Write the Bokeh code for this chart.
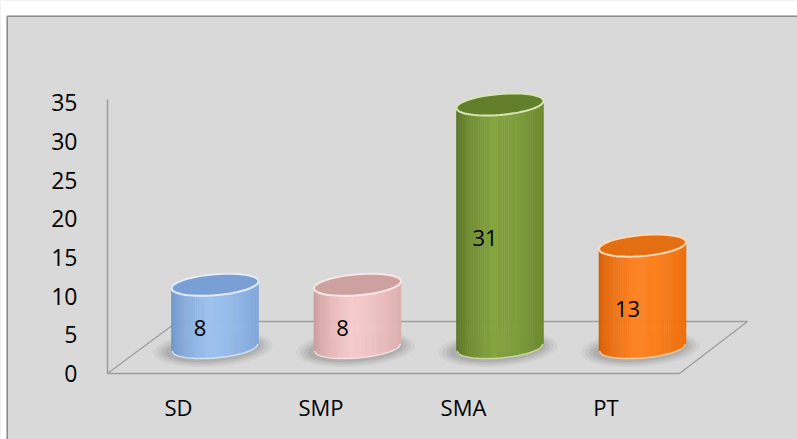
import math

from bokeh.core.properties import value
from bokeh.embed import file_html
from bokeh.models import ColumnDataSource, FixedTicker, Range1d
from bokeh.plotting import figure
from bokeh.resources import INLINE

# ---- data -------------------------------------------------------------
categories = ["SD", "SMP", "SMA", "PT"]
counts = [8, 8, 31, 13]
y_ticks = [0, 5, 10, 15, 20, 25, 30, 35]

# per-cylinder shading: left edge, highlight, right side, top inside, rim
palettes = [
    ("#6a8fc4", "#9dc2ef", "#80a6da", "#7a9fd4", "#e3ecf7"),
    ("#c79796", "#f6cbcb", "#ddafae", "#cda1a0", "#fae6e6"),
    ("#556e24", "#83a33f", "#6b8a2e", "#627f2c", "#d8e6b5"),
    ("#d05805", "#ff8422", "#ec6e0c", "#e46e12", "#fdd9b8"),
]

# ---- layout constants (pixels) ---------------------------------------
W, H = 797, 439
BOX_L, BOX_T = 6, 15    # grey chart box corner
AXIS_X = 107            # value axis position
LABEL_ROW = 385         # category labels hang below this row
PX_UNIT = 7.74          # pixels per count on the value axis
BAR_PX_UNIT = 7.84      # pixels per count at the cylinders' depth
AXIS_ZERO = 373         # value axis zero (floor front edge)
BAR_ZERO = 347          # row where cylinders stand (mid floor)
SLOT, FIRST_LABEL = 142.5, 178
BAR_SHIFT, BAR_W = 36.5, 87
ELL_H, ELL_SHEAR = 10.5, 3.5
FLOOR_BACK_Y = 321
FLOOR_X = (107, 679, 747, 177)

BG = "#d9d9d9"
FONT = value("Open Sans")


def xd(px):
    return (px - FIRST_LABEL) / SLOT


def yd(px):
    return (AXIS_ZERO - px) / PX_UNIT


def mix(a, b, t):
    ca = [int(a[k:k + 2], 16) for k in (1, 3, 5)]
    cb = [int(b[k:k + 2], 16) for k in (1, 3, 5)]
    return "#" + "".join(f"{round(x + (y - x) * t):02x}" for x, y in zip(ca, cb))


def shade(pal, u):
    left, light, right = pal[0], pal[1], pal[2]
    u0 = -0.15
    if u < u0:
        t = ((u + 1) / (u0 + 1)) ** 0.55
        return mix(left, light, t)
    t = ((u - u0) / (1 - u0)) ** 1.6
    return mix(light, right, t)


p = figure(
    width=W, height=H,
    x_range=Range1d(xd(0), xd(W)),
    y_range=Range1d(yd(H), yd(0)),
    min_border=0,
    toolbar_location=None, output_backend="svg",
)
p.extra_y_ranges = {
    "bars": Range1d((BAR_ZERO - H) / BAR_PX_UNIT, BAR_ZERO / BAR_PX_UNIT)
}
p.background_fill_color = BG
p.border_fill_color = BG
p.outline_line_color = None
p.grid.visible = False

# page margin around the grey chart box, and the box border
p.quad(left=[xd(0), xd(0)], right=[xd(W), xd(BOX_L)],
       bottom=[yd(BOX_T), yd(H)], top=[yd(0), yd(0)],
       fill_color="white", line_alpha=0)
edge = 0.75
p.line([xd(BOX_L + edge)] * 2, [yd(H), yd(BOX_T + edge)],
       line_color="#8c8c8c", line_width=1.5)
p.line([xd(BOX_L + edge), xd(W)], [yd(BOX_T + edge)] * 2,
       line_color="#8c8c8c", line_width=1.5)

# value axis, drawn inside the chart box
ya = p.yaxis[0]
ya.fixed_location = xd(AXIS_X)
ya.ticker = FixedTicker(ticks=y_ticks)
ya.bounds = (0, 35.4)
ya.axis_line_color = "#9c9c9c"
ya.axis_line_width = 1.5
ya.major_tick_line_color = None
ya.minor_tick_line_color = None
ya.major_label_standoff = 24
ya.major_label_text_font = "Open Sans"
ya.major_label_text_font_size = "23px"
ya.major_label_text_color = "#000000"

# category axis
xa = p.xaxis[0]
xa.fixed_location = yd(LABEL_ROW)
xa.ticker = FixedTicker(ticks=list(range(len(categories))))
xa.major_label_overrides = {i: c for i, c in enumerate(categories)}
xa.axis_line_color = None
xa.major_tick_line_color = None
xa.minor_tick_line_color = None
xa.major_label_standoff = 0
xa.major_label_text_font = "Open Sans"
xa.major_label_text_font_size = "22px"
xa.major_label_text_color = "#000000"

# floor of the 3-D plot area
p.patch(
    x=[xd(v) for v in FLOOR_X],
    y=[0, 0, yd(FLOOR_BACK_Y), yd(FLOOR_BACK_Y)],
    fill_alpha=0, line_color="#a0a0a0", line_width=1.5,
)

hw = BAR_W / 2 / SLOT
e = ELL_H / BAR_PX_UNIT
s = ELL_SHEAR / BAR_PX_UNIT
N = 40


def ellipse_pts(cx, cy, rx, ry, sh, n=60):
    xs, ys = [], []
    for k in range(n):
        t = 2 * math.pi * k / n
        xs.append(cx + rx * math.cos(t))
        ys.append(cy + ry * math.sin(t) + sh * math.cos(t))
    return xs, ys


for i, (v, pal) in enumerate(zip(counts, palettes)):
    c = i + BAR_SHIFT / SLOT

    # soft floor shadow
    for grow, alpha in ((16, 0.05), (12, 0.07), (8, 0.09), (4, 0.10)):
        sx, sy = ellipse_pts(c - 2 / SLOT, -1.5 / BAR_PX_UNIT,
                             hw + grow / SLOT,
                             e + grow * 0.45 / BAR_PX_UNIT, s)
        p.patch(sx, sy, fill_color="#404040", fill_alpha=alpha,
                line_alpha=0, y_range_name="bars")

    # shaded body built from thin vertical strips
    xs, ys, cols = [], [], []
    for j in range(N):
        ua = -1 + 2 * j / N
        ub = -1 + 2 * (j + 1) / N
        xa_, xb_ = c + ua * hw, c + ub * hw
        xs.append([xa_, xb_, xb_, xa_])
        ys.append([
            v + s * ua, v + s * ub,
            s * ub - e * math.sqrt(max(0.0, 1 - ub * ub)),
            s * ua - e * math.sqrt(max(0.0, 1 - ua * ua)),
        ])
        cols.append(shade(pal, (ua + ub) / 2))
    p.patches(xs, ys, fill_color=cols, line_color=cols, line_width=0.6,
              y_range_name="bars")

    # light rim along the base
    bx, by = [], []
    for k in range(41):
        u = -1 + 2 * k / 40
        bx.append(c + u * hw * 0.99)
        by.append(s * u - e * math.sqrt(max(0.0, 1 - u * u)))
    p.line(bx, by, line_color=pal[4], line_width=1.5, line_alpha=0.8,
           y_range_name="bars")

    # open top of the cylinder
    tx, ty = ellipse_pts(c, v, hw, e, s)
    p.patch(tx, ty, fill_color=pal[3], line_color=pal[4], line_width=2,
            y_range_name="bars")

# value labels inside the cylinders
labels = ColumnDataSource(dict(
    x=[i + BAR_SHIFT / SLOT for i in range(len(counts))],
    y=[v / 2 for v in counts],
    text=[str(v) for v in counts],
))
p.text(x="x", y="y", text="text", source=labels, y_range_name="bars",
       x_offset=-15, y_offset=12, text_align="center", text_baseline="middle",
       text_font=FONT, text_font_size="22px", text_color="#000000")

open("out.html", "w").write(file_html(p, INLINE))
